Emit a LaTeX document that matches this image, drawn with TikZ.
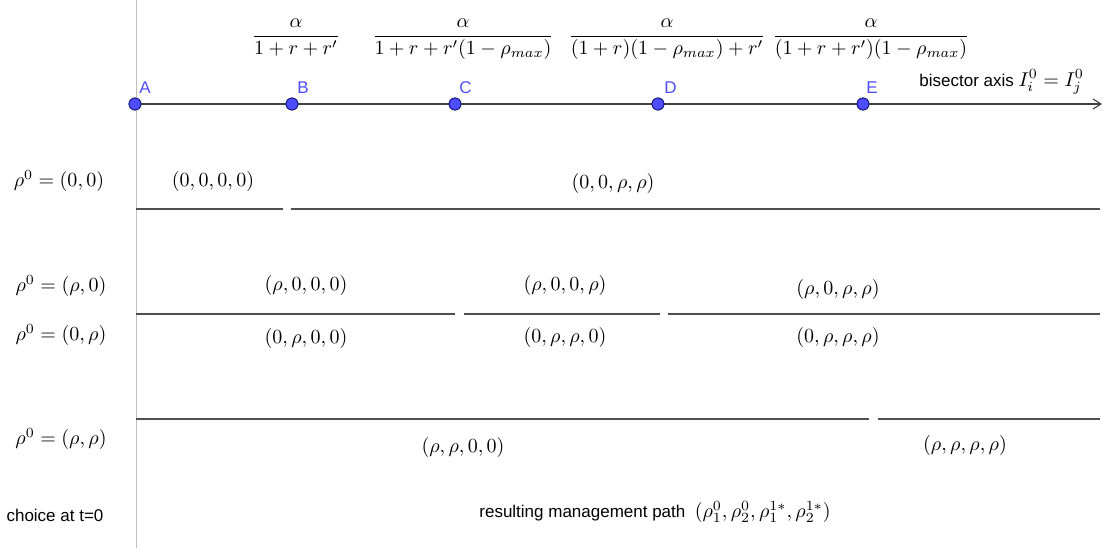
\documentclass[tikz,border=0pt]{standalone}
\usepackage{fontspec}
\usepackage{amsmath}
\newfontfamily\labelsans{Liberation Sans}
\usetikzlibrary{arrows.meta}
\definecolor{ptblue}{RGB}{77,77,255}
\definecolor{ptedge}{RGB}{20,20,120}
\definecolor{rowgray}{RGB}{80,80,80}
\newcommand{\bigmath}[1]{{\fontsize{10}{12}\selectfont$#1$}}
\tikzset{
  rowline/.style={draw=rowgray, line width=1.4pt},
  axisline/.style={draw=black!75, line width=0.55pt},
  ptdot/.style={circle, fill=ptblue, draw=ptedge, line width=0.4pt, minimum size=6pt, inner sep=0pt},
  ptlabel/.style={text=ptblue, font=\labelsans\fontsize{8.5}{10}\selectfont, inner sep=0pt},
  mlabel/.style={inner sep=0pt},
  sanslabel/.style={font=\labelsans\fontsize{8.5}{10}\selectfont, inner sep=0pt},
}
\begin{document}
\begin{tikzpicture}[x=0.5pt, y=-0.5pt]
\useasboundingbox (0,0) rectangle (1105,552);
% vertical separator
\draw[draw=black!25, line width=0.5pt] (136,0) -- (136,548);
% axis
\node[ptdot] (A) at (135,104) {};
\node[ptdot] (B) at (292,104) {};
\node[ptdot] (C) at (455,104) {};
\node[ptdot] (D) at (658,104) {};
\node[ptdot] (E) at (863,104) {};
\coordinate (axend) at (1102,104);
\draw[axisline, -{Straight Barb[length=4pt,width=5pt]}] (A.center) -- (axend);
\foreach \p in {A,B,C,D,E} \node[ptdot] at (\p) {};
\node[ptlabel, anchor=west] (lA) at (139,88) {A};
\node[ptlabel, anchor=west] (lB) at (297,88) {B};
\node[ptlabel, anchor=west] (lC) at (459,88) {C};
\node[ptlabel, anchor=west] (lD) at (664,88) {D};
\node[ptlabel, anchor=west] (lE) at (866,88) {E};
\node[sanslabel, anchor=west] (bis) at (919,82) {bisector axis \bigmath{I_i^0=I_j^0}};
% fractions
\node[mlabel, anchor=base] (fB) at (296,41) {$\dfrac{\alpha}{1+r+r'}$};
\node[mlabel, anchor=base] (fC) at (463,41) {$\dfrac{\alpha}{1+r+r'(1-\rho_{max})}$};
\node[mlabel, anchor=base] (fD) at (667,41) {$\dfrac{\alpha}{(1+r)(1-\rho_{max})+r'}$};
\node[mlabel, anchor=base] (fE) at (871,41) {$\dfrac{\alpha}{(1+r+r')(1-\rho_{max})}$};
% row 1
\draw[rowline] (136,209) -- (283,209);
\draw[rowline] (291,209) -- (1100,209);
\node[mlabel] (r1) at (59,181) {$\rho^0=(0,0)$};
\node[mlabel] (p1a) at (213,181) {$(0,0,0,0)$};
\node[mlabel] (p1b) at (613,183) {$(0,0,\rho,\rho)$};
% rows 2/3
\draw[rowline] (136,314) -- (455,314);
\draw[rowline] (464,314) -- (660,314);
\draw[rowline] (668,314) -- (1100,314);
\node[mlabel] (r2) at (61,286) {$\rho^0=(\rho,0)$};
\node[mlabel] (r3) at (61,335) {$\rho^0=(0,\rho)$};
\node[mlabel] (p2a) at (306,285) {$(\rho,0,0,0)$};
\node[mlabel] (p2b) at (565,285) {$(\rho,0,0,\rho)$};
\node[mlabel] (p2c) at (838,289) {$(\rho,0,\rho,\rho)$};
\node[mlabel] (p3a) at (306,338) {$(0,\rho,0,0)$};
\node[mlabel] (p3b) at (565,337) {$(0,\rho,\rho,0)$};
\node[mlabel] (p3c) at (838,337) {$(0,\rho,\rho,\rho)$};
% row 4
\draw[rowline] (136,419) -- (869,419);
\draw[rowline] (878,419) -- (1100,419);
\node[mlabel] (r4) at (61,439) {$\rho^0=(\rho,\rho)$};
\node[mlabel] (p4a) at (463,447) {$(\rho,\rho,0,0)$};
\node[mlabel] (p4b) at (965,445) {$(\rho,\rho,\rho,\rho)$};
% footer
\node[sanslabel] (choice) at (55,515) {choice at t=0};
\node[sanslabel, anchor=west] (path) at (479,512) {resulting management path \ \bigmath{(\rho_1^0,\rho_2^0,\rho_1^{1*},\rho_2^{1*})}};
\end{tikzpicture}
\end{document}
